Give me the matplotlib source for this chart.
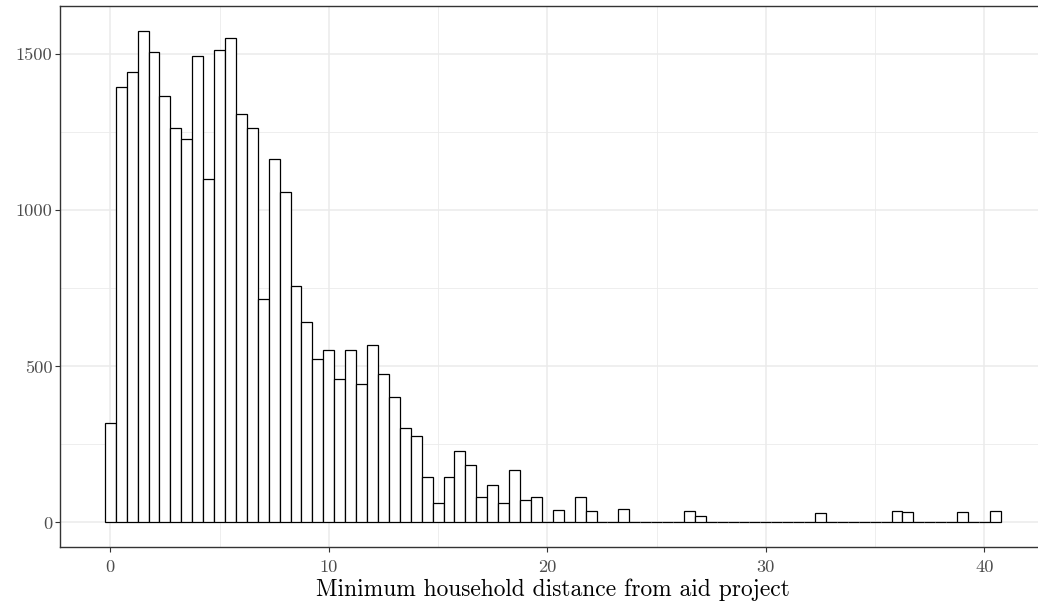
import numpy as np
import matplotlib
matplotlib.use("Agg")
import matplotlib.pyplot as plt

# Histogram counts, bin width 0.5, bins centred at 0, 0.5, ..., 40.5
bin_width = 0.5
bin_centers = np.arange(82) * bin_width
counts = [320, 1395, 1443, 1576, 1506, 1368, 1263, 1229, 1496, 1102,
          1515, 1552, 1310, 1263, 716, 1166, 1058, 756, 641, 525,
          552, 461, 553, 445, 568, 475, 403, 304, 278, 146,
          63, 144, 228, 184, 83, 119, 63, 168, 72, 80,
          0, 39, 0, 83, 38, 0, 0, 43, 0, 0,
          0, 0, 0, 36, 20, 0, 0, 0, 0, 0,
          0, 0, 0, 0, 0, 29, 0, 0, 0, 0,
          0, 0, 37, 33, 0, 0, 0, 0, 34, 0,
          0, 37]
x_ticks = [0, 10, 20, 30, 40]
y_ticks = [0, 500, 1000, 1500]
x_label = "Minimum household distance from aid project"

plt.rcParams['font.family'] = ['cmr10', 'DejaVu Serif']
plt.rcParams['axes.formatter.use_mathtext'] = True

W, H = 1038, 609
fig = plt.figure(figsize=(W / 100, H / 100), dpi=100)
# panel in pixel coordinates (right edge extends past the figure as in reference)
left_px, right_px, top_px, bottom_px = 60, 1045.6, 6, 547
ax = fig.add_axes([left_px / W, 1 - bottom_px / H,
                   (right_px - left_px) / W, (bottom_px - top_px) / H])

grid_c = '#EBEBEB'
for v in [5, 15, 25, 35]:
    ax.axvline(v, color=grid_c, lw=0.6, zorder=0)
for v in [250, 750, 1250]:
    ax.axhline(v, color=grid_c, lw=0.6, zorder=0)
for v in x_ticks:
    ax.axvline(v, color=grid_c, lw=1.1, zorder=0)
for v in y_ticks:
    ax.axhline(v, color=grid_c, lw=1.1, zorder=0)

ax.bar(bin_centers, counts, width=bin_width, facecolor='white',
       edgecolor='black', linewidth=0.9, zorder=2)

data_min = bin_centers[0] - bin_width / 2
data_max = bin_centers[-1] + bin_width / 2
xr = data_max - data_min
ax.set_xlim(data_min - 0.05 * xr, data_max + 0.05 * xr)
ymax = max(counts)
ax.set_ylim(-0.05 * ymax, ymax * 1.05)

ax.set_xticks(x_ticks)
ax.set_yticks(y_ticks)
ax.set_xticklabels([str(t) for t in x_ticks])
ax.set_yticklabels([str(t) for t in y_ticks])
ax.tick_params(axis='both', colors='#333333', labelcolor='#4D4D4D',
               labelsize=13.2, length=3.5, width=0.8)
ax.tick_params(axis='y', pad=2)
ax.tick_params(axis='x', pad=5.5)

for s in ['left', 'bottom', 'top']:
    ax.spines[s].set_color('#333333')
    ax.spines[s].set_linewidth(1.0)
ax.spines['right'].set_visible(False)

ax.set_xlabel(x_label, fontsize=16.9, color='black', labelpad=3)

fig.savefig('out.png', dpi=100)
